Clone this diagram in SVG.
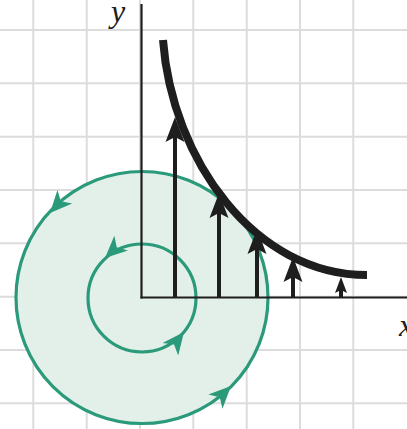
<svg xmlns="http://www.w3.org/2000/svg" width="407" height="429" viewBox="0 0 407 429">
<style>
.grid line{stroke:#dcdcdc;stroke-width:2}
.teal{fill:none;stroke:#2a9a7a;stroke-width:3.2}
.thead{fill:#2a9a7a}
.ax{stroke:#1e1e1e;stroke-width:2.2;fill:none}
.shaft{stroke:#1e1e1e;stroke-width:4}
.bhead{fill:#1e1e1e}
.lbl{font-family:"Liberation Serif",serif;font-style:italic;font-size:32px;fill:#1e1e1e}
</style>
<defs>
<path id="ch" d="M0,0 L-22,-10 L-16,0 L-22,10 Z"/>
</defs>
<rect width="407" height="429" fill="#ffffff"/>
<g class="grid" id="grid">
<line x1="33.3" y1="0" x2="33.3" y2="429"/>
<line x1="86.7" y1="0" x2="86.7" y2="429"/>
<line x1="140" y1="0" x2="140" y2="429"/>
<line x1="193.3" y1="0" x2="193.3" y2="429"/>
<line x1="246.7" y1="0" x2="246.7" y2="429"/>
<line x1="300" y1="0" x2="300" y2="429"/>
<line x1="353.3" y1="0" x2="353.3" y2="429"/>
<line x1="0" y1="30" x2="407" y2="30"/>
<line x1="0" y1="83.3" x2="407" y2="83.3"/>
<line x1="0" y1="136.7" x2="407" y2="136.7"/>
<line x1="0" y1="190" x2="407" y2="190"/>
<line x1="0" y1="243.3" x2="407" y2="243.3"/>
<line x1="0" y1="296.7" x2="407" y2="296.7"/>
<line x1="0" y1="350" x2="407" y2="350"/>
<line x1="0" y1="403.3" x2="407" y2="403.3"/>
</g>
<g id="region">
<circle cx="142" cy="297.5" r="126" fill="#e3f0e9" stroke="none"/>
<circle cx="142" cy="297.5" r="126" class="teal"/>
<circle cx="142" cy="298" r="54" class="teal"/>
<use href="#ch" class="thead" transform="translate(50,213) rotate(132.4)"/>
<use href="#ch" class="thead" transform="translate(231,386) rotate(-45)"/>
<use href="#ch" class="thead" transform="translate(105,258) rotate(137.2)"/>
<use href="#ch" class="thead" transform="translate(184,332) rotate(-51.7)"/>
</g>
<g id="axes">
<line class="ax" x1="141.5" y1="4" x2="141.5" y2="298.5"/>
<line class="ax" x1="140.5" y1="297.5" x2="407" y2="297.5"/>
<text class="lbl" x="111" y="22">y</text>
<text class="lbl" x="399" y="336">x</text>
</g>
<g id="curve">
<path d="M163,40 C172,160 255,275 367,275" fill="none" stroke="#1e1e1e" stroke-width="8"/>
</g>
<g id="connectors">
<line class="shaft" x1="175" y1="298" x2="175" y2="137"/>
<path class="bhead" d="M175,117 L184.5,142 L175,137 L165.5,142 Z"/>
<line class="shaft" x1="219" y1="298" x2="219" y2="213"/>
<path class="bhead" d="M219,193 L228.5,218 L219,213 L209.5,218 Z"/>
<line class="shaft" x1="257" y1="298" x2="257" y2="249"/>
<path class="bhead" d="M257,229 L266.5,254 L257,249 L247.5,254 Z"/>
<line class="shaft" x1="293" y1="298" x2="293" y2="277"/>
<path class="bhead" d="M293,257 L302.5,282 L293,277 L283.5,282 Z"/>
<line class="shaft" x1="341" y1="298" x2="341" y2="290"/>
<path class="bhead" d="M341,277 L347,293 L341,290 L335,293 Z"/>
</g>
</svg>
